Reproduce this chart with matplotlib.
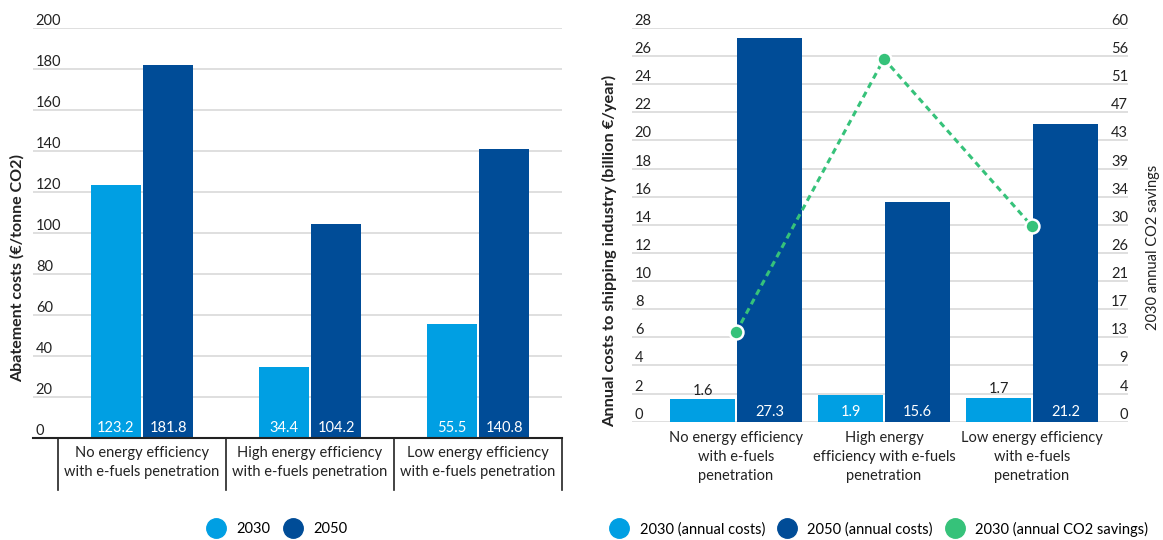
import matplotlib
matplotlib.use("Agg")

import matplotlib.pyplot as plt
import matplotlib.transforms as mtransforms
from matplotlib.lines import Line2D
import numpy as np

# Abatement costs (EUR / tonne CO2)
scenarios_left = [
    "No energy efficiency\nwith e-fuels penetration",
    "High energy efficiency\nwith e-fuels penetration",
    "Low energy efficiency\nwith e-fuels penetration",
]
abatement_2030 = [123.2, 34.4, 55.5]
abatement_2050 = [181.8, 104.2, 140.8]
abatement_ticks = [0, 20, 40, 60, 80, 100, 120, 140, 160, 180, 200]

# Annual costs (billion EUR / year) and CO2 savings
scenarios_right = [
    "No energy efficiency\nwith e-fuels\npenetration",
    "High energy\nefficiency with e-fuels\npenetration",
    "Low energy efficiency\nwith e-fuels\npenetration",
]
annual_2030 = [1.6, 1.9, 1.7]
annual_2050 = [27.3, 15.6, 21.2]
co2_savings_2030 = [13.6, 55.3, 29.8]
annual_ticks = list(range(0, 29, 2))
savings_ticks = np.linspace(0, 60, 15)

C2030 = "#009fe3"
C2050 = "#004c97"
CSAV = "#36c27a"
GRID = "#d9d9d9"
TXT = "#222222"

plt.rcParams["font.family"] = ["Lato", "DejaVu Sans"]
plt.rcParams["font.size"] = 10

W, H = 1163, 540
fig = plt.figure(figsize=(W / 100, H / 100), dpi=100)


def px_axes(x0, y0, x1, y1):
    # axes from pixel box (top-left origin)
    return fig.add_axes([x0 / W, 1 - y1 / H, (x1 - x0) / W, (y1 - y0) / H])


def style_axes(ax):
    for s in ["top", "right", "left"]:
        ax.spines[s].set_visible(False)
    ax.grid(axis="y", color=GRID, linewidth=1.2)
    ax.set_axisbelow(True)
    ax.tick_params(axis="y", length=0, pad=-2, labelsize=10.5, labelcolor=TXT)
    ax.tick_params(axis="x", length=0, labelbottom=False)
    for lab in ax.get_yticklabels():
        lab.set_ha("left")
        lab.set_va("bottom")


# ---------------- left chart ----------------
ax1 = px_axes(33, 28, 562, 438)
x = np.arange(len(scenarios_left))
bw = 0.298
b30 = ax1.bar(x - 0.157, abatement_2030, bw, color=C2030, zorder=2)
b50 = ax1.bar(x + 0.157, abatement_2050, bw, color=C2050, zorder=2)
ax1.set_xlim(-0.649, 2.5)
ax1.set_ylim(0, 200)
ax1.set_yticks(abatement_ticks)
style_axes(ax1)
ax1.spines["bottom"].set_color("#222222")
ax1.spines["bottom"].set_linewidth(1.5)

for bars in (b30, b50):
    for b in bars:
        ax1.annotate(f"{b.get_height():.1f}", (b.get_x() + b.get_width() / 2, 0),
                     xytext=(0, 2), textcoords="offset points",
                     ha="center", va="bottom", color="white", fontsize=10.5, zorder=3)

tr1 = mtransforms.blended_transform_factory(ax1.transData, ax1.transAxes)
for b in np.arange(-0.5, len(scenarios_left), 1.0):
    ax1.add_line(Line2D([b, b], [0, -0.128], transform=tr1, color="#222222",
                        linewidth=1.2, clip_on=False))
for i, lab in enumerate(scenarios_left):
    ax1.annotate(lab, (i, 0), xycoords=tr1, xytext=(0, -6), textcoords="offset points",
                 ha="center", va="top", fontsize=10.5, color=TXT, linespacing=1.45)

fig.text(17 / W, 1 - 268 / H, "Abatement costs (€/tonne CO2)", rotation=90,
         ha="center", va="center", fontsize=11.5, fontweight="bold", color=TXT)

# ---------------- right chart ----------------
ax2 = px_axes(632, 28, 1128, 421.7)
x2 = np.arange(len(scenarios_right))
bw2 = 0.44
r30 = ax2.bar(x2 - 0.226, annual_2030, bw2, color=C2030, zorder=2)
r50 = ax2.bar(x2 + 0.226, annual_2050, bw2, color=C2050, zorder=2)
ax2.set_xlim(-0.703, 2.649)
ax2.set_ylim(0, 28)
ax2.set_yticks(annual_ticks)
style_axes(ax2)
ax2.spines["bottom"].set_visible(False)

for b in r30:
    v = b.get_height()
    xc = b.get_x() + b.get_width() / 2
    if v > 1.8:
        ax2.annotate(f"{v:.1f}", (xc, 0), xytext=(0, 2), textcoords="offset points",
                     ha="center", va="bottom", color="white", fontsize=10.5, zorder=3)
    else:
        ax2.annotate(f"{v:.1f}", (xc, v), xytext=(0, 1), textcoords="offset points",
                     ha="center", va="bottom", color=TXT, fontsize=10.5, zorder=3)
for b in r50:
    ax2.annotate(f"{b.get_height():.1f}", (b.get_x() + b.get_width() / 2, 0),
                 xytext=(0, 2), textcoords="offset points",
                 ha="center", va="bottom", color="white", fontsize=10.5, zorder=3)

tr2 = mtransforms.blended_transform_factory(ax2.transData, ax2.transAxes)
for i, lab in enumerate(scenarios_right):
    ax2.annotate(lab, (i, 0), xycoords=tr2, xytext=(0, -7), textcoords="offset points",
                 ha="center", va="top", fontsize=10.5, color=TXT, linespacing=1.45)

ax3 = ax2.twinx()
ax3.set_ylim(0, 60)
ax3.set_yticks(savings_ticks)
ax3.set_yticklabels([f"{t:.0f}" for t in savings_ticks])
for s in ax3.spines.values():
    s.set_visible(False)
ax3.tick_params(axis="y", length=0, pad=0, labelsize=10.5, labelcolor=TXT)
for lab in ax3.get_yticklabels():
    lab.set_ha("right")
    lab.set_va("bottom")
ax3.plot(x2, co2_savings_2030, color=CSAV, linewidth=2.2, linestyle=(0, (2, 1.5)),
         marker="o", markersize=10, markerfacecolor=CSAV, markeredgecolor="white",
         markeredgewidth=1.8, zorder=4)

fig.text(610 / W, 1 - 251 / H, "Annual costs to shipping industry (billion €/year)",
         rotation=90, ha="center", va="center", fontsize=11.8, fontweight="bold", color=TXT)
fig.text(1153 / W, 1 - 247 / H, "2030 annual CO2 savings", rotation=90,
         ha="center", va="center", fontsize=10.5, color=TXT)

# ---------------- legends ----------------
def dot(c):
    return Line2D([], [], linestyle="none", marker="o", markersize=14,
                  markerfacecolor=c, markeredgecolor=c)


fig.legend([dot(C2030), dot(C2050)], ["2030", "2050"], loc="center",
           bbox_to_anchor=(278 / W, 1 - 529 / H), ncol=2, frameon=False,
           fontsize=10.5, handlelength=1.0, handletextpad=0.9, columnspacing=1.0)
fig.legend([dot(C2030), dot(C2050), dot(CSAV)],
           ["2030 (annual costs)", "2050 (annual costs)", "2030 (annual CO2 savings)"],
           loc="center", bbox_to_anchor=(880 / W, 1 - 529 / H), ncol=3, frameon=False,
           fontsize=10.5, handlelength=1.0, handletextpad=0.9, columnspacing=1.0)

fig.savefig("out.png", dpi=100)
